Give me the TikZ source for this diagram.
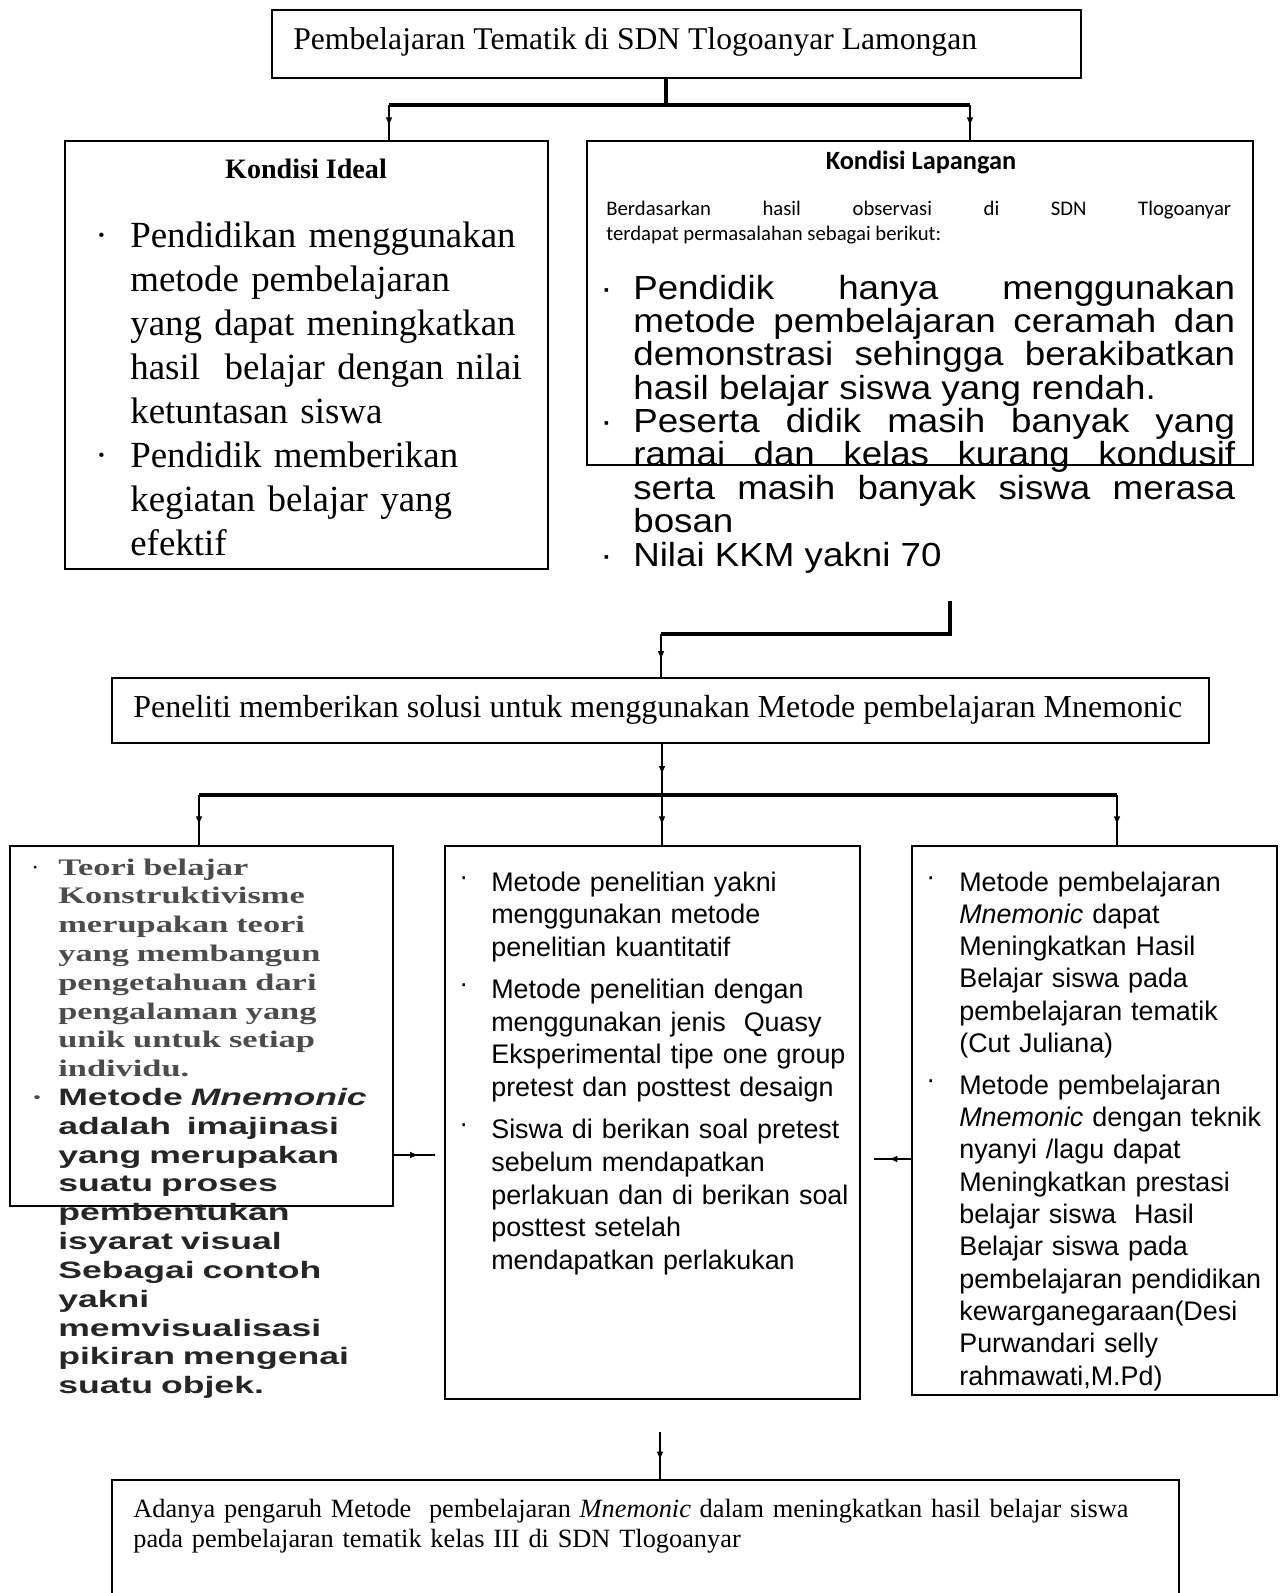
\documentclass[tikz,border=0pt]{standalone}
\usepackage{fontspec}
\setmainfont{Liberation Serif}
\setsansfont{Liberation Sans}
\newfontfamily\calibrifont{Carlito}
\newfontfamily\wideserif[FakeStretch=1.45]{Liberation Serif}
\newfontfamily\widesans[FakeStretch=1.5]{Liberation Sans}
\newfontfamily\lapfont[FakeStretch=1.1]{Liberation Sans}
\usetikzlibrary{arrows,fit,decorations.markings}

\newcommand{\butir}[3][·]{\noindent\hangindent=#2\hangafter=1\makebox[#2][l]{#1}#3\par}
\newcommand{\titik}{\raisebox{0.22em}{·}}

\begin{document}
\begin{tikzpicture}[x=0.02cm,y=-0.02cm,
  box/.style={draw,line width=1.2pt,inner sep=0pt},
  teks/.style={inner sep=0pt,anchor=base west},
  bar/.style={line width=2.3pt},
  panah/.style={line width=0.7pt,postaction={decorate},
    decoration={markings,mark=at position 0.6 with {\arrow{latex}}}}]

\useasboundingbox (0,0) rectangle (1284,1593);
\clip (0,0) rectangle (1284,1593);

% boxes
\node[box,fit={(272,10) (1081,78)}] (tematik) {};
\node[box,fit={(65,141) (548,569)}] (ideal) {};
\node[box,fit={(587,141) (1253,465)}] (lapangan) {};
\node[box,fit={(112,678) (1209,743)}] (solusi) {};
\node[box,fit={(10,846) (393,1206)}] (teori) {};
\node[box,fit={(445,846) (860,1399)}] (metode) {};
\node[box,fit={(912,846) (1277,1395)}] (kajian) {};
\node[box,fit={(112,1480) (1179,1640)}] (hasil) {};

% texts
\node[teks,font=\fontsize{18}{21}\selectfont] (tematik-t) at (293,49) {Pembelajaran Tematik di SDN Tlogoanyar Lamongan};

\node[anchor=base,inner sep=0pt,font=\fontsize{16}{19}\selectfont\bfseries] (ideal-t) at (306,178) {Kondisi Ideal};
\node[teks,text width=9.5cm,align=left,font=\fontsize{21}{25.05}\selectfont] (ideal-isi) at (95,247) {%
\butir{0.7cm}{Pendidikan menggunakan\newline metode pembelajaran\newline yang dapat meningkatkan\newline hasil\ \ belajar dengan nilai\newline ketuntasan siswa}%
\butir{0.7cm}{Pendidik memberikan\newline kegiatan belajar yang\newline efektif}};

\node[anchor=base,inner sep=0pt,font=\calibrifont\bfseries\fontsize{15}{17}\selectfont] (lapangan-t) at (921,169) {Kondisi Lapangan};
\node[teks,text width=12.5cm,align=justify,font=\calibrifont\fontsize{11.8}{14.4}\selectfont] (lapangan-p) at (606,215) {Berdasarkan hasil observasi di SDN Tlogoanyar\linebreak terdapat permasalahan sebagai berikut:};
\node[teks,text width=12.7cm,align=justify,font=\lapfont\fontsize{19}{19}\selectfont] (lapangan-isi) at (600,299) {%
\butir{0.66cm}{Pendidik hanya menggunakan\linebreak metode pembelajaran ceramah dan\linebreak demonstrasi sehingga berakibatkan\linebreak hasil belajar siswa yang rendah.}%
\butir{0.66cm}{Peserta didik masih banyak yang\linebreak ramai dan kelas kurang kondusif\linebreak serta masih banyak siswa merasa\linebreak bosan}%
\butir{0.66cm}{Nilai KKM yakni 70}};

\node[teks,font=\fontsize{18.2}{21}\selectfont] (solusi-t) at (133,717) {Peneliti memberikan solusi untuk menggunakan Metode pembelajaran Mnemonic};

\node[teks,text width=7.4cm,align=left,font=\fontsize{13.5}{16.4}\selectfont] (teori-isi) at (31,875) {%
\butir{0.54cm}{\color{black!70}\wideserif\bfseries Teori belajar\newline Konstruktivisme\newline merupakan teori\newline yang membangun\newline pengetahuan dari\newline pengalaman yang\newline unik untuk setiap\newline individu.}%
\butir{0.54cm}{\color{black!85}\widesans Metode \textit{Mnemonic}\newline adalah\ \ imajinasi\newline yang merupakan\newline suatu proses\newline pembentukan\newline isyarat visual\newline Sebagai contoh\newline yakni\newline memvisualisasi\newline pikiran mengenai\newline suatu objek.}};

\node[teks,text width=8cm,align=left,font=\sffamily\fontsize{15.3}{18.6}\selectfont] (metode-isi) at (459,891) {%
\butir[\titik]{0.64cm}{Metode penelitian yakni\newline menggunakan metode\newline penelitian kuantitatif}\vspace{5.4pt}%
\butir[\titik]{0.64cm}{Metode penelitian dengan\newline menggunakan jenis\ \ Quasy\newline Eksperimental tipe one group\newline pretest dan posttest desaign}\vspace{5.4pt}%
\butir[\titik]{0.64cm}{Siswa di berikan soal pretest\newline sebelum mendapatkan\newline perlakuan dan di berikan soal\newline posttest setelah\newline mendapatkan perlakukan}};

\node[teks,text width=7cm,align=left,font=\sffamily\fontsize{15.3}{18.4}\selectfont] (kajian-isi) at (926,891) {%
\butir[\titik]{0.66cm}{Metode pembelajaran\newline \textit{Mnemonic} dapat\newline Meningkatkan Hasil\newline Belajar siswa pada\newline pembelajaran tematik\newline (Cut Juliana)}\vspace{5.2pt}%
\butir[\titik]{0.66cm}{Metode pembelajaran\newline \textit{Mnemonic} dengan teknik\newline nyanyi /lagu dapat\newline Meningkatkan prestasi\newline belajar siswa\ \ Hasil\newline Belajar siswa pada\newline pembelajaran pendidikan\newline kewarganegaraan(Desi\newline Purwandari selly\newline rahmawati,M.Pd)}};

\node[teks,text width=21cm,align=left,font=\fontsize{15}{17.3}\selectfont] (hasil-t) at (133,1517) {Adanya pengaruh Metode\ \ pembelajaran \textit{Mnemonic} dalam meningkatkan hasil belajar siswa\newline pada pembelajaran tematik kelas III di SDN Tlogoanyar};

% connectors
\coordinate (cabang) at (666,105);
\coordinate (kiri1) at (389,105);
\coordinate (kanan1) at (970,105);
\draw[bar] (cabang |- tematik.south) -- (cabang);
\draw[bar] (kiri1) -- (kanan1);
\draw[panah] (kiri1) -- (kiri1 |- ideal.north);
\draw[panah] (kanan1) -- (kanan1 |- lapangan.north);

\coordinate (lapkaki) at (950,601);
\coordinate (belok) at (661,634);
\draw[bar] (lapkaki) -- (lapkaki |- belok) -- (belok);
\draw[panah] (belok) -- (belok |- solusi.north);

\coordinate (cabang2) at (662,795);
\coordinate (kiri2) at (199,795);
\coordinate (kanan2) at (1117,795);
\draw[panah] (cabang2 |- solusi.south) -- (cabang2);
\draw[bar] (kiri2) -- (kanan2);
\draw[panah] (kiri2) -- (kiri2 |- teori.north);
\draw[panah] (cabang2) -- (cabang2 |- metode.north);
\draw[panah] (kanan2) -- (kanan2 |- kajian.north);

\coordinate (sisi1) at (435,1155);
\coordinate (sisi2) at (874,1159);
\draw[panah] (sisi1 -| teori.east) -- (sisi1);
\draw[panah] (sisi2 -| kajian.west) -- (sisi2);

\coordinate (kaki) at (660,1432);
\draw[panah] (kaki) -- (kaki |- hasil.north);

\end{tikzpicture}
\end{document}
